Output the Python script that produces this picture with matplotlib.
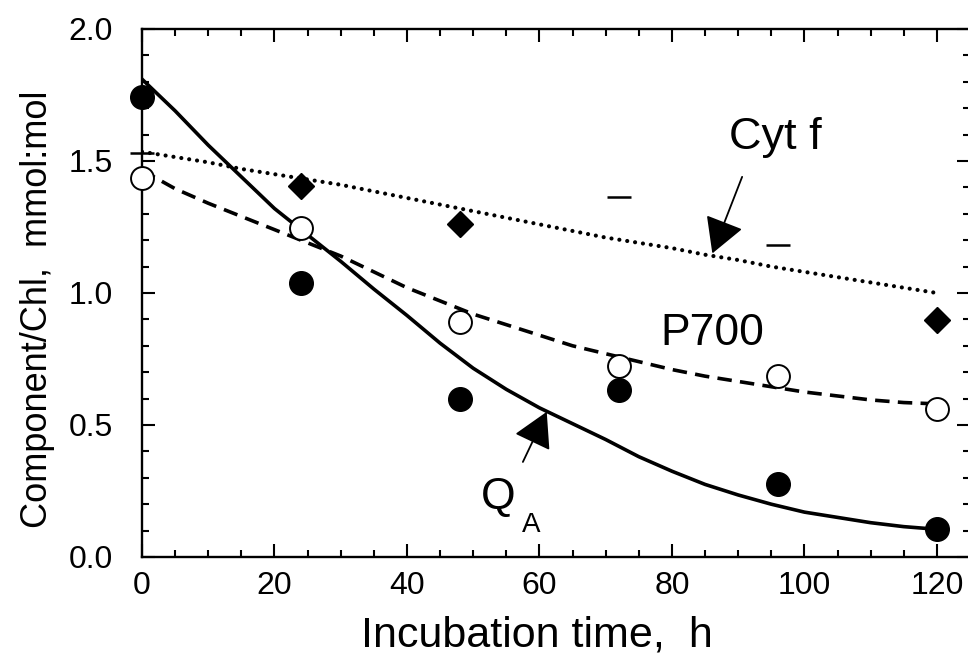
import matplotlib
matplotlib.use("Agg")
import matplotlib.pyplot as plt
from matplotlib.ticker import MultipleLocator

plt.rcParams["font.family"] = ["Liberation Sans", "DejaVu Sans"]

# measured points
t_pts = [0, 24, 48, 72, 96, 120]
qa_pts = [1.742, 1.038, 0.598, 0.633, 0.277, 0.106]
p700_pts = [1.436, 1.246, 0.890, 0.723, 0.686, 0.560]
cytf_t = [24, 48, 120]
cytf_pts = [1.405, 1.261, 0.898]
cytf_dash_t = [0, 72, 96]
cytf_dash = [1.53, 1.364, 1.182]

# fitted curves, read every 5 h
t_fit = list(range(0, 121, 5))
qa_fit = [1.81, 1.69, 1.56, 1.44, 1.32, 1.22, 1.12, 1.015, 0.915, 0.81, 0.715,
          0.635, 0.565, 0.505, 0.445, 0.38, 0.325, 0.275, 0.235, 0.2, 0.17,
          0.15, 0.13, 0.115, 0.105]
p700_fit = [1.465, 1.395, 1.34, 1.29, 1.24, 1.19, 1.14, 1.08, 1.02, 0.97, 0.92,
            0.88, 0.84, 0.80, 0.77, 0.74, 0.71, 0.685, 0.665, 0.645, 0.625,
            0.61, 0.595, 0.585, 0.58]
cytf_fit = [1.535, 1.515, 1.495, 1.47, 1.45, 1.43, 1.41, 1.385, 1.36, 1.335,
            1.31, 1.285, 1.26, 1.235, 1.21, 1.19, 1.17, 1.145, 1.125, 1.10,
            1.08, 1.06, 1.04, 1.02, 1.0]

fig = plt.figure(figsize=(9.68, 6.6), dpi=100)
ax = fig.add_axes([142 / 968, 1 - 557 / 660, 828 / 968, 528 / 660])

ax.plot(t_fit, qa_fit, color="black", lw=2.6, solid_joinstyle="round")
ax.plot(t_fit, p700_fit, color="black", lw=2.6, linestyle=(0, (4.0, 2.3)))
ax.plot(t_fit, cytf_fit, color="black", lw=3.0, linestyle=(0, (0.01, 1.9)),
        dash_capstyle="round")

ax.plot(t_pts, qa_pts, "o", color="black", ms=17, clip_on=False, zorder=5)
ax.plot(t_pts, p700_pts, "o", mfc="white", mec="black", mew=1.4, ms=16.5,
        clip_on=False, zorder=5)
ax.plot(cytf_t, cytf_pts, "D", color="black", ms=13, clip_on=False, zorder=5)
ax.plot(cytf_dash_t, cytf_dash, "_", color="black", ms=17, mew=1.8,
        clip_on=False, zorder=5)

ax.set_xlim(0, 125)
ax.set_ylim(0, 2.0)
ax.xaxis.set_major_locator(MultipleLocator(20))
ax.xaxis.set_minor_locator(MultipleLocator(5))
ax.yaxis.set_major_locator(MultipleLocator(0.5))
ax.yaxis.set_minor_locator(MultipleLocator(0.1))
ax.yaxis.set_major_formatter(plt.FormatStrFormatter("%.1f"))

ax.tick_params(which="both", direction="in", top=True, right=True, width=1.5)
ax.tick_params(which="major", length=9.5)
ax.tick_params(which="minor", length=5)
ax.tick_params(axis="x", which="major", labelsize=23, pad=10)
ax.tick_params(axis="y", which="major", labelsize=23, pad=21)
for s in ax.spines.values():
    s.set_linewidth(1.7)

ax.set_xlabel("Incubation time,  h", fontsize=31)
ax.xaxis.set_label_coords(0.477, -0.11)
ax.set_ylabel("Component/Chl,  mmol:mol", fontsize=26)
ax.yaxis.set_label_coords(-0.105, 0.47)

arrow = dict(arrowstyle="-|>,head_length=1.1,head_width=0.62", color="black",
             lw=1.3, mutation_scale=20, shrinkA=0, shrinkB=0)
ax.annotate("", xy=(86.1, 1.15), xytext=(90.6, 1.44), arrowprops=arrow)
ax.annotate("", xy=(61.1, 0.55), xytext=(57.5, 0.36), arrowprops=arrow)

ax.text(95.6, 1.59, "Cyt f", fontsize=32.5, ha="center", va="center")
ax.text(86.1, 0.848, "P700", fontsize=32, ha="center", va="center")
ax.text(53.7, 0.227, "Q", fontsize=32, ha="center", va="center")
ax.text(58.8, 0.121, "A", fontsize=20, ha="center", va="center")

fig.savefig("out.png", dpi=100)
